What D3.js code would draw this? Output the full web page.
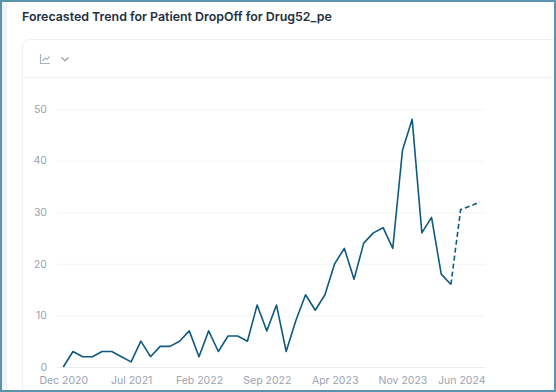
<!DOCTYPE html>
<html>
<head>
<meta charset="utf-8">
<script src="https://cdn.jsdelivr.net/npm/d3@7"></script>
<style>
  html, body { margin: 0; padding: 0; background: #fff; overflow: hidden; }
  svg { display: block; font-family: Inter, "Noto Sans", sans-serif; }
</style>
</head>
<body>
<div id="chart"></div>
<script>
const months = [
  'Dec 2020', 'Jan 2021', 'Feb 2021', 'Mar 2021', 'Apr 2021', 'May 2021', 'Jun 2021', 'Jul 2021',
  'Aug 2021', 'Sep 2021', 'Oct 2021', 'Nov 2021', 'Dec 2021', 'Jan 2022', 'Feb 2022', 'Mar 2022',
  'Apr 2022', 'May 2022', 'Jun 2022', 'Jul 2022', 'Aug 2022', 'Sep 2022', 'Oct 2022', 'Nov 2022',
  'Dec 2022', 'Jan 2023', 'Feb 2023', 'Mar 2023', 'Apr 2023', 'May 2023', 'Jun 2023', 'Jul 2023',
  'Aug 2023', 'Sep 2023', 'Oct 2023', 'Nov 2023', 'Dec 2023', 'Jan 2024', 'Feb 2024', 'Mar 2024',
  'Apr 2024', 'May 2024', 'Jun 2024', 'Jul 2024'
];
const actual = [
  0, 3, 2, 2, 3, 3, 2, 1, 5, 2, 4, 4, 5, 7, 2, 7, 3, 6, 6, 5, 12, 7, 12, 3,
  9, 14, 11, 14, 20, 23, 17, 24, 26, 27, 23, 42, 48, 26, 29, 18, 16
];
// forecast picks up from the last actual month
const forecastMonths = ['Apr 2024', 'May 2024', 'Jun 2024', 'Jul 2024'];
const forecast = [16, 30.5, 31.2, 32];
const xTickLabels = ['Dec 2020', 'Jul 2021', 'Feb 2022', 'Sep 2022', 'Apr 2023', 'Nov 2023', 'Jun 2024'];
const yTickValues = [0, 10, 20, 30, 40, 50];

const W = 556, H = 392;
const svg = d3.select('#chart').append('svg').attr('width', W).attr('height', H);

// --- Frame around the screenshot ---
svg.append('rect').attr('x', 2).attr('y', 2).attr('width', 5).attr('height', H - 4).attr('fill', '#eef4f8');
svg.append('rect').attr('x', 1).attr('y', 1).attr('width', W - 2).attr('height', H - 2)
  .attr('fill', 'none').attr('stroke', '#5b92ae').attr('stroke-width', 2);

svg.append('text').attr('x', 22).attr('y', 21)
  .style('font-size', '12.4px').style('font-weight', '600').style('fill', '#243040')
  .text('Forecasted Trend for Patient DropOff for Drug52_pe');

// --- Card + toolbar ---
svg.append('path').attr('d', `M22.5,${H - 2} V47 Q22.5,39.5 30,39.5 H${W - 2}`)
  .attr('fill', 'none').attr('stroke', '#eff1f5').attr('stroke-width', 1);
svg.append('line').attr('x1', 23).attr('x2', W - 2).attr('y1', 77.5).attr('y2', 77.5)
  .attr('stroke', '#eff1f5');

const icon = svg.append('g').attr('fill', 'none').attr('stroke', '#aab3bf').attr('stroke-width', 1.2);
icon.append('path').attr('d', 'M40.5,54 V63.5 H50');
icon.append('path').attr('d', 'M42.5,61 L45,58 L47,59.5 L49.5,56.5');
icon.append('path').attr('d', 'M61.5,57.5 L65,60.8 L68.5,57.5').attr('stroke', '#8f99a8');

// --- Plot ---
const x = d3.scalePoint().domain(months).range([63.3, 480]);
const y = d3.scaleLinear().domain([0, 50]).range([367, 109]);
const gridLeft = 58, gridRight = 485;

const yAxis = svg.append('g').attr('transform', `translate(${gridLeft},0)`)
  .call(d3.axisLeft(y).tickValues(yTickValues).tickSize(-(gridRight - gridLeft)).tickPadding(11));
yAxis.select('.domain').remove();
yAxis.selectAll('line').attr('stroke', d => d === 0 ? '#e6ebf1' : '#f3f5f8');
yAxis.selectAll('text').style('font-size', '10.5px').style('fill', '#9aa3af')
  .style('font-family', 'Inter, sans-serif');

const xAxis = svg.append('g').attr('transform', 'translate(0,367)')
  .call(d3.axisBottom(x).tickValues(xTickLabels).tickSize(0).tickPadding(10));
xAxis.select('.domain').remove();
xAxis.selectAll('text').style('font-size', '10.5px').style('fill', '#9aa3af')
  .style('font-family', 'Inter, sans-serif');
// last label is pushed back inside the plot edge
xAxis.selectAll('g.tick').filter(d => d === 'Jun 2024').select('text')
  .attr('text-anchor', 'end').attr('x', gridRight - x('Jun 2024'));

const line = d3.line().x(d => x(d[0])).y(d => y(d[1]));

svg.append('path').datum(actual.map((v, i) => [months[i], v]))
  .attr('fill', 'none').attr('stroke', '#0f5a80').attr('stroke-width', 1.6)
  .attr('stroke-linejoin', 'round').attr('d', line);
svg.append('path').datum(forecast.map((v, i) => [forecastMonths[i], v]))
  .attr('fill', 'none').attr('stroke', '#0f5a80').attr('stroke-width', 1.6)
  .attr('stroke-dasharray', '5 3').attr('d', line);
</script>
</body>
</html>
